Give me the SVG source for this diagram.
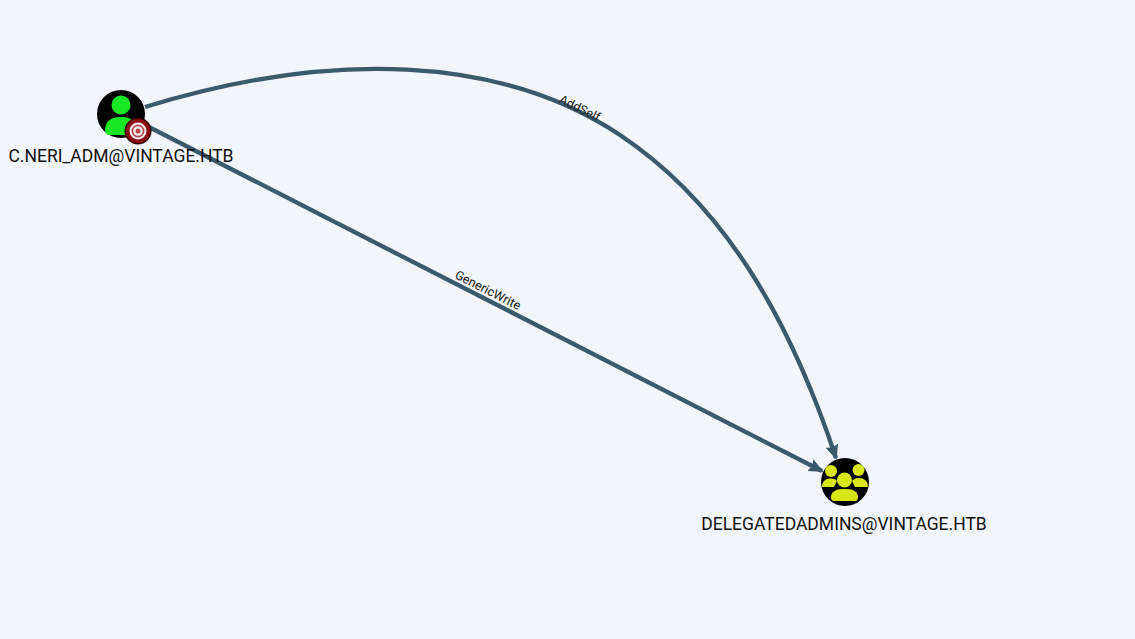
<svg xmlns="http://www.w3.org/2000/svg" width="1135" height="639" viewBox="0 0 1135 639">
<style>
.edge{fill:none;stroke:#3a5a6e;stroke-width:4.300}
.nl{font-family:Roboto,"Liberation Sans",sans-serif;font-size:17.5px;fill:#111;text-anchor:middle}
.el{font-family:Roboto,"Liberation Sans",sans-serif;font-size:12.6px;fill:#222;text-anchor:middle}
.u{fill:#17e625}
.g{fill:#dbe617}
</style>
<defs>
<marker id="arrow" markerUnits="userSpaceOnUse" markerWidth="16" markerHeight="14" refX="13" refY="7" orient="auto">
<path d="M0 .5L15 7L0 13.500L2 7Z" fill="#3a5a6e"/>
</marker>
</defs>
<rect width="1135" height="639" fill="#f2f5fa"/>
<g id="connectors">
<path class="edge" marker-end="url(#arrow)" d="M145 107C330 50 500 55 620 135C725 205 790 320 836 458"/>
<path class="edge" marker-end="url(#arrow)" d="M147 126L822 471"/>
<text class="el" transform="translate(578 112) rotate(26)">AddSelf</text>
<text class="el" transform="translate(486 294) rotate(27)">GenericWrite</text>
</g>
<g id="node-c-neri">
<circle cx="121" cy="114" r="24" fill="#000"/>
<circle class="u" cx="121" cy="105" r="9.500"/>
<path class="u" d="M105 130C105 122 111 117 119 117H123C131 117 137 122 137 130Q137 135 133 135H109Q105 135 105 130Z"/>
<circle cx="138" cy="131" r="13.500" fill="#300"/>
<circle cx="138" cy="131" r="12" fill="#8e0b12"/>
<circle cx="138" cy="131" r="8.500" fill="#f4eeee"/>
<circle cx="138" cy="131" r="6.500" fill="#b6454a"/>
<circle cx="138" cy="131" r="4.800" fill="#f4eeee"/>
<circle cx="138" cy="131" r="2.500" fill="#b6454a"/>
<text class="nl" x="121" y="162">C.NERI_ADM@VINTAGE.HTB</text>
</g>
<g id="node-delegatedadmins">
<circle cx="845" cy="482" r="24" fill="#000"/>
<circle class="g" cx="831" cy="471" r="6"/>
<circle class="g" cx="858.500" cy="470" r="6"/>
<path class="g" d="M822 487C822 481 826 478.500 831 478.500C834 478.500 836 479.500 837 481L834 487Z"/>
<path class="g" d="M868 487C868 481 864 478 858.500 478C855 478 853 479.500 852 481L855 487Z"/>
<circle class="g" cx="844.500" cy="480" r="7.500"/>
<path class="g" d="M831 497C831 492 836 489 842 489H847C853 489 858 492 858 497Q858 501 855 501H834Q831 501 831 497Z"/>
<text class="nl" x="844" y="530">DELEGATEDADMINS@VINTAGE.HTB</text>
</g>
</svg>
